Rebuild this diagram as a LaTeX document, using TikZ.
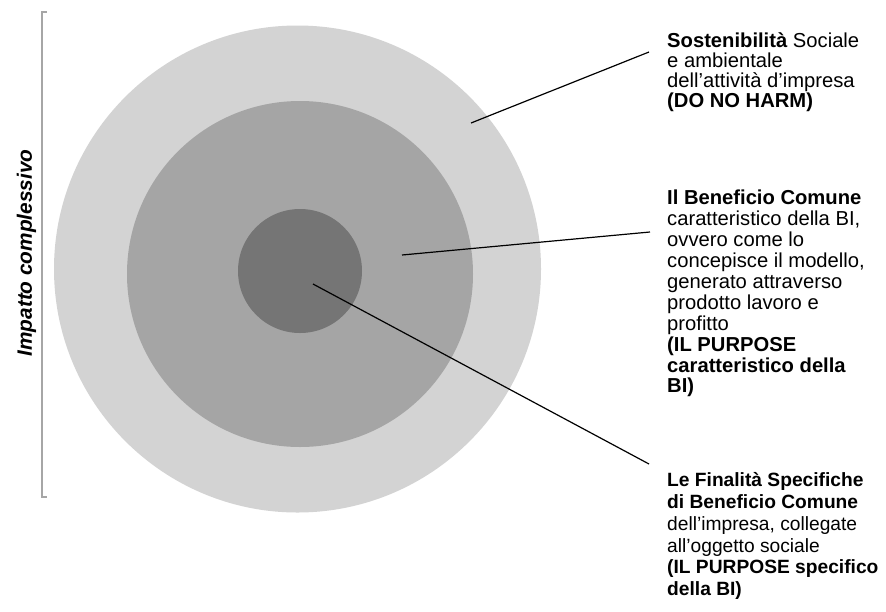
\documentclass[tikz,border=0pt]{standalone}
\usepackage{fontspec}
\setmainfont{Liberation Sans}
\definecolor{ringA}{RGB}{211,211,211}
\definecolor{ringB}{RGB}{165,165,165}
\definecolor{ringC}{RGB}{117,117,117}
\definecolor{bracketgray}{RGB}{166,166,166}
\tikzset{
  ring/.style={circle, draw=none, inner sep=0pt, minimum size=#1},
  leader/.style={draw=black, line width=1.2pt},
  callout/.style={anchor=north west, align=left, inner sep=0pt, font=\fontsize{20.2}{20.9}\selectfont},
  sidelabel/.style={rotate=90, inner sep=0pt, font=\fontsize{20.8}{21}\selectfont\bfseries\itshape},
  brk/.style={draw=bracketgray, line width=2.6pt}
}
\begin{document}
\begin{tikzpicture}[x=1pt,y=-1pt]
\useasboundingbox (0,0) rectangle (886,611);
% rings
\node[ring=487pt, fill=ringA] (outer) at (297.5,269) {};
\node[ring=346pt, fill=ringB] (middle) at (300,274) {};
\node[ring=124pt, fill=ringC] (inner) at (300,271) {};
% bracket and side label
\coordinate (bt) at (47,12);
\coordinate (bb) at (47,497);
\draw[brk] (bt) -- (42,12) -- (42,497) -- (bb);
\node[sidelabel] (side) at (26.5,253) {Impatto complessivo};
% callouts
\node[callout, font=\fontsize{20.2}{19.9}\selectfont] (t1) at (667,32.5)
  {\textbf{Sostenibilità} Sociale\\e ambientale\\dell’attività d’impresa\\\textbf{(DO NO HARM)}};
\node[callout] (t2) at (667,190)
  {\textbf{Il Beneficio Comune}\\caratteristico della BI,\\ovvero come lo\\concepisce il modello,\\generato attraverso\\prodotto lavoro e\\profitto\\\textbf{(IL PURPOSE}\\\textbf{caratteristico della}\\\textbf{BI)}};
\node[callout, font=\fontsize{19.2}{21.8}\selectfont] (t3) at (667,472.5)
  {\textbf{Le Finalità Specifiche}\\\textbf{di Beneficio Comune}\\dell’impresa, collegate\\all’oggetto sociale\\\textbf{(IL PURPOSE specifico}\\\textbf{della BI)}};
% leader lines
\coordinate (s1) at (471,123);
\coordinate (e1) at (649,52);
\coordinate (s2) at (402,255);
\coordinate (e2) at (650,232);
\coordinate (s3) at (313,284);
\coordinate (e3) at (649,464);
\draw[leader] (s1) -- (e1);
\draw[leader] (s2) -- (e2);
\draw[leader] (s3) -- (e3);
\end{tikzpicture}
\end{document}
